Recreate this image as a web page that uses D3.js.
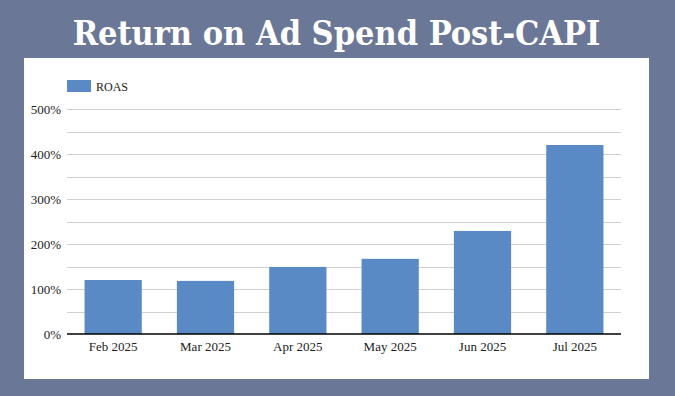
<!DOCTYPE html>
<html>
<head>
<meta charset="utf-8">
<script src="https://cdn.jsdelivr.net/npm/d3@7"></script>
<style>
  body { margin: 0; background: #6b7796; }
  svg { display: block; }
</style>
</head>
<body>
<svg id="chart" width="675" height="396"></svg>
<script>
// data
var months = ["Feb 2025", "Mar 2025", "Apr 2025", "May 2025", "Jun 2025", "Jul 2025"]
var roas = [120, 118, 149, 167, 229, 420]
var yTicks = [0, 100, 200, 300, 400, 500]
var seriesName = "ROAS"

var svg = d3.select("#chart")
var W = 675, H = 396

svg.append("rect").attr("width", W).attr("height", H).attr("fill", "#6b7796")
svg.append("rect")
	.attr("x", 24).attr("y", 58)
	.attr("width", 625).attr("height", 321)
	.attr("fill", "#ffffff")

// title, sized to fit the reference width
var title = svg.append("text")
	.attr("x", W / 2 - 1).attr("y", 45)
	.attr("text-anchor", "middle")
	.attr("fill", "#ffffff")
	.style("font-family", "'DejaVu Serif Condensed', 'DejaVu Serif', serif")
	.style("font-stretch", "condensed")
	.style("font-weight", "bold")
	.style("font-size", "32px")
	.text("Return on Ad Spend Post-CAPI")
var tw = title.node().getComputedTextLength()
title.style("font-size", (32 * 528 / tw) + "px")

var x = d3.scaleBand().domain(months).range([67, 621]).paddingInner(0.38).paddingOuter(0.19)
var y = d3.scaleLinear().domain([0, 500]).range([334, 109])

// gridlines every 50%
svg.append("g")
	.selectAll("line")
	.data(d3.range(50, 501, 50))
	.enter()
	.append("line")
	.attr("x1", 67).attr("x2", 621)
	.attr("y1", function (d) { return Math.round(y(d)) + 0.5 })
	.attr("y2", function (d) { return Math.round(y(d)) + 0.5 })
	.attr("stroke", "#d0d0d0")
	.attr("stroke-width", 1)

svg.append("g")
	.selectAll("rect")
	.data(roas)
	.enter()
	.append("rect")
	.attr("x", function (d, i) { return x(months[i]) })
	.attr("width", x.bandwidth())
	.attr("y", function (d) { return y(d) })
	.attr("height", function (d) { return y(0) - y(d) })
	.attr("fill", "#5a8ac6")

// y axis labels
var yAxis = svg.append("g")
	.attr("transform", "translate(67,0)")
	.call(d3.axisLeft(y).tickValues(yTicks).tickSize(0).tickPadding(6)
		.tickFormat(function (d) { return d + "%" }))
yAxis.select(".domain").remove()
yAxis.selectAll("text")
	.style("font-family", "'Liberation Serif', serif")
	.style("font-size", "13px")
	.attr("fill", "#222")

// x axis
var xAxis = svg.append("g")
	.attr("transform", "translate(0,334)")
	.call(d3.axisBottom(x).tickSize(0).tickPadding(8))
xAxis.select(".domain").remove()
xAxis.selectAll("text")
	.style("font-family", "'Liberation Serif', serif")
	.style("font-size", "13px")
	.attr("fill", "#222")
svg.append("line")
	.attr("x1", 67).attr("x2", 621)
	.attr("y1", 334).attr("y2", 334)
	.attr("stroke", "#000")
	.attr("stroke-width", 1.5)

// legend
svg.append("rect")
	.attr("x", 67).attr("y", 80)
	.attr("width", 24).attr("height", 12)
	.attr("fill", "#5a8ac6")
svg.append("text")
	.attr("x", 96).attr("y", 90.5)
	.style("font-family", "'Liberation Serif', serif")
	.style("font-size", "12px")
	.attr("fill", "#222")
	.text(seriesName)
</script>
</body>
</html>
